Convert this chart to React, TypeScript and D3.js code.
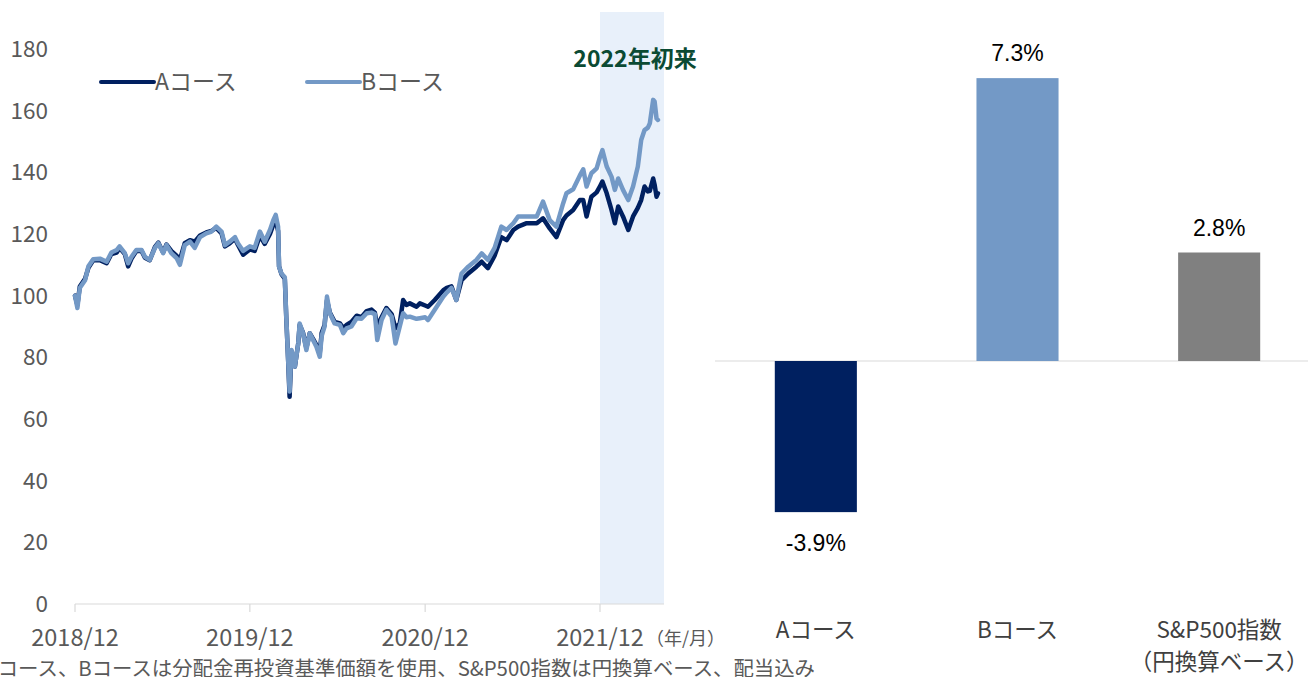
import React from "react";
import * as d3 from "d3";

const dates: string[] = [
  "2018-12-01","2018-12-06","2018-12-11","2018-12-22","2018-12-29","2019-01-08","2019-01-22","2019-02-05","2019-02-15","2019-02-26",
  "2019-03-04","2019-03-15","2019-03-22","2019-03-29","2019-04-08","2019-04-19","2019-04-26","2019-05-06","2019-05-17","2019-05-24",
  "2019-06-03","2019-06-10","2019-06-20","2019-07-01","2019-07-08","2019-07-18","2019-07-29","2019-08-08","2019-08-19","2019-09-01",
  "2019-09-12","2019-09-22","2019-10-03","2019-10-10","2019-10-20","2019-10-31","2019-11-06","2019-11-17","2019-12-01","2019-12-11",
  "2019-12-22","2020-01-01","2020-01-12","2020-01-19","2020-01-24","2020-01-29","2020-01-31","2020-02-05","2020-02-12","2020-02-15",
  "2020-02-19","2020-02-22","2020-02-26","2020-03-04","2020-03-11","2020-03-14","2020-03-21","2020-03-28","2020-04-04","2020-04-11",
  "2020-04-18","2020-04-25","2020-04-29","2020-05-05","2020-05-10","2020-05-16","2020-05-26","2020-06-06","2020-06-13","2020-06-20",
  "2020-06-30","2020-07-11","2020-07-21","2020-08-01","2020-08-11","2020-08-18","2020-08-23","2020-09-01","2020-09-11","2020-09-22",
  "2020-09-30","2020-10-09","2020-10-16","2020-10-23","2020-10-30","2020-11-13","2020-11-20","2020-12-01","2020-12-07","2020-12-21",
  "2021-01-08","2021-01-15","2021-01-25","2021-02-04","2021-02-15","2021-03-01","2021-03-18","2021-03-29","2021-04-11","2021-04-25",
  "2021-05-09","2021-05-20","2021-06-03","2021-06-13","2021-07-01","2021-07-22","2021-08-04","2021-08-18","2021-09-01","2021-09-15",
  "2021-09-22","2021-10-06","2021-10-20","2021-10-27","2021-11-03","2021-11-13","2021-11-24","2021-12-01","2021-12-06","2021-12-15",
  "2021-12-25","2022-01-01","2022-01-08","2022-01-18","2022-01-29","2022-02-08","2022-02-18","2022-02-25","2022-03-04","2022-03-11",
  "2022-03-15","2022-03-22","2022-03-25","2022-03-29","2022-04-01",
];

const courseA: number[] = [
  100,97,103,105.5,109,111.5,111.5,110.5,113.5,114,
  115.5,113.5,109.5,112,114.5,114.5,112.3,111.5,115.8,117.2,
  114,116.6,114.5,113,111.6,117,118,117.5,119.5,120.5,
  121,122,120.2,116,117,118.5,116.5,113.3,115,114.5,
  119.5,116.8,120,123,124.5,121,109.5,107,105.5,93,
  79,67.2,82,77,84.5,90.5,88,83,87.8,86,
  84,81.5,88,90.5,98.5,94.5,91.5,91,89.5,90.5,
  91.5,93.5,93,95,95.5,94.5,90,93,96,94,
  89.4,91,98.6,97,97.5,96.4,97.5,96.8,96.4,98.6,
  101.8,102.5,103,98.6,105,107.2,109.4,111,108.9,113,
  119,118,121.3,122.4,123.5,123.5,125.1,121.8,119,124.5,
  126,127.8,131,131,125.7,132.1,133.5,135.5,137,133.2,
  127.8,123.5,128.9,125.7,121.3,125.7,128.5,131,135.4,133.8,
  134,138,136,132.1,133.2,
];

const courseB: number[] = [
  100,96,102.5,105,109.5,111.8,112,111,114,114.8,
  116,113.8,110.5,112.6,114.8,114.8,112.6,111.6,115.5,117,
  113.8,116.4,113.8,112.2,110,116.4,117.5,115.5,119,120.2,
  120.8,122.4,120.8,116.4,117.5,119,117,114.5,116,115.5,
  120.8,117.5,121.3,124.5,126.2,122.4,109.4,107.2,106,93.2,
  79.1,68.9,82.4,77,84.5,91,87.8,82.4,87.8,85.6,
  83.4,80.2,87,90,99.7,94.3,91,90.5,87.8,89.4,
  90,92.7,92.5,94.3,94.5,94,85.6,92.1,95.4,93.2,
  84.5,90,94.3,93,93.2,92.5,92.7,93,92.1,95.4,
  99.7,101,102.5,98.6,107.2,109.4,111.6,113.7,111.6,115.5,
  122.4,121.3,123.5,125.7,125.7,125.7,130.5,124.5,122.4,129.9,
  133.2,134.5,139,141,135.4,139.7,141.3,145,147.2,141.9,
  138.6,134.3,138,134.3,131,135.4,141.9,150.5,153.7,154.5,
  155.9,163.5,163,157.5,157,
];

const seriesNames: string[] = ["Aコース", "Bコース"];
const seriesColors: string[] = ["#002060", "#7399C6"];
const yTicks: number[] = [0, 20, 40, 60, 80, 100, 120, 140, 160, 180];
const xTickDates: string[] = ["2018-12-01", "2019-12-01", "2020-12-01", "2021-12-01"];
const xTickLabels: string[] = ["2018/12", "2019/12", "2020/12", "2021/12"];
const highlightStart = "2021-12-01";
const highlightLabel = "2022年初来";

const barCategories: string[][] = [["Aコース"], ["Bコース"], ["S&P500指数", "（円換算ベース）"]];
const barValues: number[] = [-3.9, 7.3, 2.8];
const barColors: string[] = ["#002060", "#7399C6", "#808080"];

const footnote = "（注）Aコース、Bコースは分配金再投資基準価額を使用、S&P500指数は円換算ベース、配当込み";

export default function App() {
  const parse = d3.timeParse("%Y-%m-%d");
  const x = d3
    .scaleTime()
    .domain([parse(xTickDates[0])!, parse(xTickDates[3])!])
    .range([75, 600]);
  const plotRight = 664;
  const y = d3.scaleLinear().domain([0, 180]).range([604, 49]);

  const rows = dates.map((d, i) => ({ date: parse(d)!, a: courseA[i], b: courseB[i] }));
  const lineA = d3
    .line<any>()
    .x((d) => x(d.date))
    .y((d) => y(d.a));
  const lineB = d3
    .line<any>()
    .x((d) => x(d.date))
    .y((d) => y(d.b));

  const xb = d3
    .scaleBand<number>()
    .domain(barValues.map((_, i) => i))
    .range([715, 1320])
    .paddingInner(0.593)
    .paddingOuter(0.2965);
  const yb = d3.scaleLinear().domain([-4, 8]).range([516, 51]);

  const gray = "#595959";
  const jp = "'Noto Sans CJK JP', 'Noto Sans', sans-serif";
  const hx = x(parse(highlightStart)!);

  return (
    <div style={{ position: "fixed", left: 0, top: 0 }}>
      <svg width={1308} height={677} style={{ display: "block", background: "#fff" }}>
        {/* highlight band */}
        <rect x={hx} y={12} width={plotRight - hx} height={y(0) - 12} fill="#E8F0FA" />
        <text
          x={(hx + plotRight) / 2 + 3}
          y={67}
          textAnchor="middle"
          fontFamily={jp}
          fontWeight={700}
          fontSize={23}
          fill="#0B4A33"
        >
          {highlightLabel}
        </text>

        {/* y ticks */}
        {yTicks.map((t) => (
          <text key={t} x={48} y={y(t) + 8} textAnchor="end" fontFamily={jp} fontSize={22.5} fill={gray}>
            {t}
          </text>
        ))}

        {/* x axis */}
        <line x1={x(parse(xTickDates[0])!)} x2={plotRight} y1={y(0)} y2={y(0)} stroke="#D9D9D9" strokeWidth={1.2} />
        {xTickDates.map((d, i) => (
          <g key={d}>
            <line x1={x(parse(d)!)} x2={x(parse(d)!)} y1={y(0)} y2={y(0) + 8} stroke="#D9D9D9" strokeWidth={1.2} />
            <text x={x(parse(d)!)} y={646} textAnchor="middle" fontFamily={jp} fontSize={23.5} fill={gray}>
              {xTickLabels[i]}
            </text>
          </g>
        ))}
        <text x={646} y={645} fontFamily={jp} fontSize={18} fill={gray}>
          （年/月）
        </text>

        {/* lines */}
        <path d={lineA(rows) || ""} fill="none" stroke={seriesColors[0]} strokeWidth={4.5} strokeLinejoin="round" strokeLinecap="round" />
        <path d={lineB(rows) || ""} fill="none" stroke={seriesColors[1]} strokeWidth={4.5} strokeLinejoin="round" strokeLinecap="round" />

        {/* legend */}
        {seriesNames.map((n, i) => (
          <g key={n} transform={`translate(${101 + i * 206},82)`}>
            <line x1={0} x2={53} y1={0} y2={0} stroke={seriesColors[i]} strokeWidth={4} strokeLinecap="round" />
            <text x={54} y={8} fontFamily={jp} fontSize={23} fill={gray}>
              {n}
            </text>
          </g>
        ))}

        {/* bar chart */}
        <line x1={715} x2={1308} y1={yb(0)} y2={yb(0)} stroke="#D9D9D9" strokeWidth={1.2} />
        {barValues.map((v, i) => {
          const bx = xb(i)!;
          const top = yb(Math.max(v, 0));
          const bot = yb(Math.min(v, 0));
          const cx = bx + xb.bandwidth() / 2;
          return (
            <g key={i}>
              <rect x={bx} y={top} width={xb.bandwidth()} height={bot - top} fill={barColors[i]} />
              <text
                x={cx}
                y={v >= 0 ? top - 17 : bot + 39}
                textAnchor="middle"
                fontFamily="'Liberation Sans', Arial, sans-serif"
                fontSize={23}
                fill="#000"
              >
                {v.toFixed(1) + "%"}
              </text>
              {barCategories[i].map((s, j) => (
                <text key={j} x={cx} y={638 + j * 32} textAnchor="middle" fontFamily={jp} fontSize={22.5} fill="#404040">
                  {s}
                </text>
              ))}
            </g>
          );
        })}

        {/* footnote */}
        <text x={815} y={676} textAnchor="end" fontFamily={jp} fontSize={20.4} fill={gray}>
          {footnote}
        </text>
      </svg>
    </div>
  );
}
